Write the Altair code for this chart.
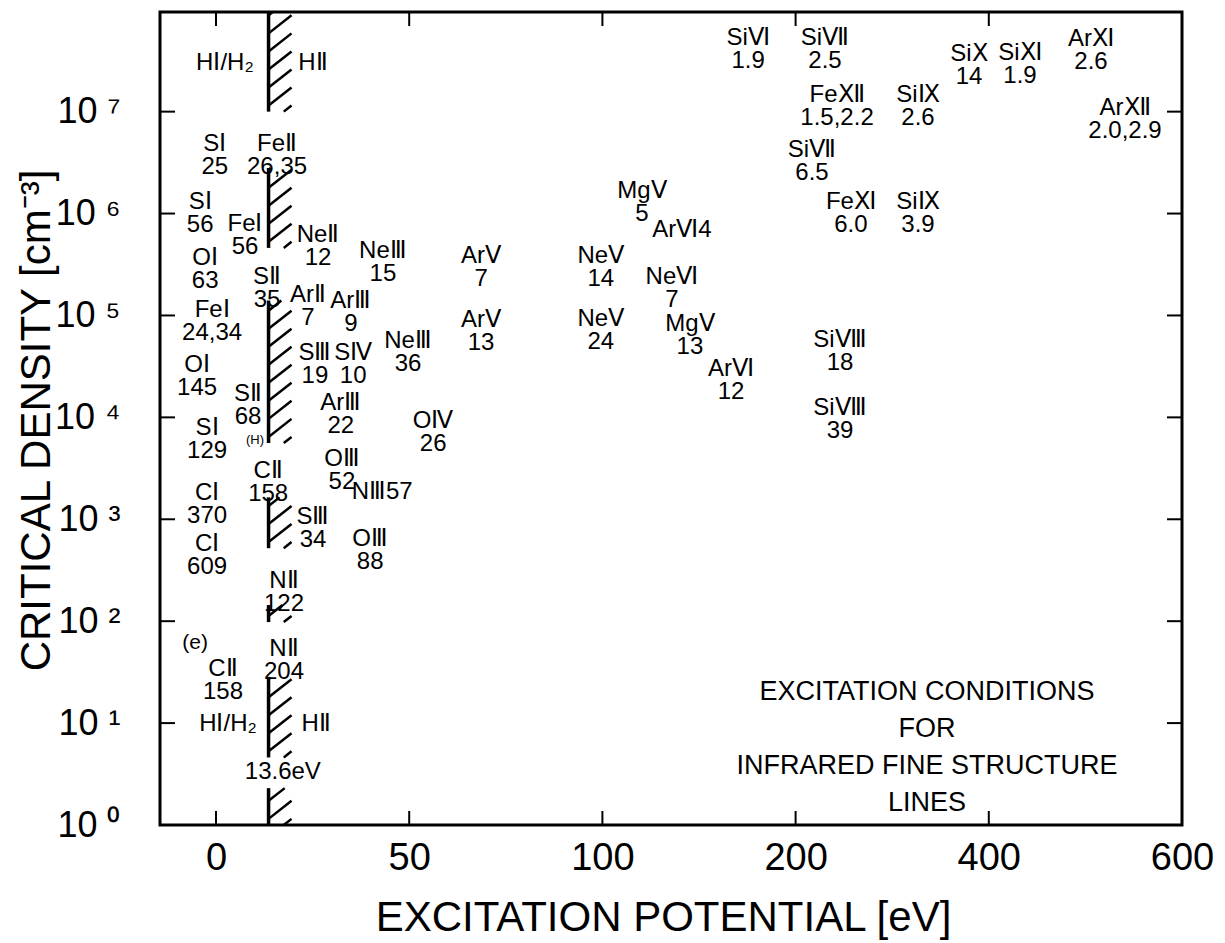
import altair as alt
import pandas as pd
import numpy as np

# ---------------- data ----------------
label_text = [
    "HⅠ/H₂", "HⅡ", "SⅠ\n25", "FeⅡ\n26,35", "SⅠ\n56", "FeⅠ\n56", "NeⅡ\n12", "NeⅢ\n15",
    "OⅠ\n63", "SⅡ\n35", "ArⅡ\n7", "ArⅢ\n9", "FeⅠ\n24,34", "SⅢ\n19", "SⅣ\n10", "NeⅢ\n36",
    "OⅠ\n145", "SⅡ\n68", "ArⅢ\n22", "SⅠ\n129", "CⅡ\n158", "OⅢ\n52", "OⅣ\n26", "NⅢ57",
    "CⅠ\n370", "SⅢ\n34", "CⅠ\n609", "OⅢ\n88", "NⅡ\n122", "NⅡ\n204", "CⅡ\n158",
    "HⅠ/H₂", "HⅡ", "13.6eV",
    "ArⅤ\n7", "ArⅤ\n13", "NeⅤ\n14", "NeⅤ\n24", "MgⅤ\n5", "ArⅥ4", "NeⅥ\n7", "MgⅤ\n13",
    "ArⅥ\n12", "SiⅧ\n18", "SiⅧ\n39",
    "SiⅥ\n1.9", "SiⅦ\n2.5", "FeⅫ\n1.5,2.2", "SiⅨ\n2.6", "SiⅩ\n14", "SiⅦ\n6.5",
    "FeⅪ\n6.0", "SiⅨ\n3.9", "SiⅪ\n1.9", "ArⅪ\n2.6", "ArⅫ\n2.0,2.9",
]
label_ev = [
    2.3, 25.1, -0.3, 15.8, -4.1, 7.5, 26.4, 43.2,
    -2.8, 13.2, 23.8, 34.9, -1.0, 25.6, 35.5, 49.7,
    -4.9, 8.3, 32.3, -2.3, 13.5, 32.6, 56.2, 43.0,
    -2.3, 25.1, -2.3, 39.9, 17.6, 17.6, 1.8,
    3.1, 25.9, 17.3,
    68.6, 68.6, 99.6, 99.6, 120.5, 141.2, 136.0, 145.3,
    166.6, 246.0, 246.0,
    175.4, 230.4, 242.9, 326.7, 379.5, 217.0,
    257.3, 326.7, 432.3, 505.8, 541.0,
]
label_density = [
    3.0e7, 3.0e7, 4.8e6, 4.8e6, 1.3e6, 7.9e5, 6.2e5, 4.3e5,
    3.7e5, 2.4e5, 1.6e5, 1.4e5, 1.13e5, 4.3e4, 4.3e4, 5.6e4,
    3.3e4, 1.7e4, 1.38e4, 7.8e3, 3.0e3, 3.9e3, 9.2e3, 1.84e3,
    1.8e3, 1.05e3, 5.7e2, 6.4e2, 2.5e2, 53, 34,
    9.7, 9.7, 3.3,
    3.8e5, 9.0e4, 3.8e5, 9.2e4, 1.66e6, 6.9e5, 2.4e5, 8.2e4,
    3.0e4, 5.7e4, 1.23e4,
    5.3e7, 5.3e7, 1.46e7, 1.46e7, 3.7e7, 4.2e6,
    1.3e6, 1.3e6, 3.77e7, 5.2e7, 1.09e7,
]

small_text = ["(H)", "(e)"]
small_ev = [10.1, -5.4]
small_density = [6.0e3, 61]

note_text = ["EXCITATION CONDITIONS\nFOR\nINFRARED FINE STRUCTURE\nLINES"]
note_ev = [336.0]
note_density = [20.0]

# ionisation limit of hydrogen and the hatched segments of it
h_limit_ev = 13.6
band_lo = [1.0e7, 4.6e5, 5.6e3, 5.2e2, 98.0, 4.6, 1.0]
band_hi = [9.5e7, 2.8e6, 1.4e5, 1.64e3, 144.0, 28.0, 2.3]

x_ticks = [0, 50, 100, 200, 400, 600]
y_ticks = [1, 10, 100, 1e3, 1e4, 1e5, 1e6, 1e7]

# ---------------- scales ----------------
W, H = 1022, 813
x_scale = alt.Scale(domain=[-14.5, 0, 50, 100, 200, 400, 600],
                    range=[0, 56, 249.2, 442.4, 635.6, 828.8, 1022],
                    nice=False, zero=False)
y_scale = alt.Scale(type="log", domain=[1, 9.5e7], nice=False)

FONT = "Liberation Sans"

# hatch pattern (decoration) for the 13.6 eV limit
run_ev, rise_dec, step_dec = 5.95, 0.177, 0.177
hx, hy, hx2, hy2 = [], [], [], []
for lo, hi in zip(band_lo, band_hi):
    llo, lhi = np.log10(lo), np.log10(hi)
    b = llo - rise_dec + 0.06
    while b < lhi:
        t0 = max(0.0, (llo - b) / rise_dec)
        t1 = min(1.0, (lhi - b) / rise_dec)
        if t1 > t0 + 0.05:
            hx.append(h_limit_ev + t0 * run_ev)
            hx2.append(h_limit_ev + t1 * run_ev)
            hy.append(10 ** (b + t0 * rise_dec))
            hy2.append(10 ** (b + t1 * rise_dec))
        b += step_dec

hatch_df = pd.DataFrame({"x": hx, "x2": hx2, "y": hy, "y2": hy2})
band_df = pd.DataFrame({"x": [h_limit_ev] * len(band_lo), "lo": band_lo, "hi": band_hi})
labels_df = pd.DataFrame({"x": label_ev, "y": label_density, "t": label_text})
small_df = pd.DataFrame({"x": small_ev, "y": small_density, "t": small_text})
note_df = pd.DataFrame({"x": note_ev, "y": note_density, "t": note_text})
xt_df = pd.DataFrame({"x": x_ticks[:-1]})
yt_df = pd.DataFrame({"y": y_ticks[1:]})

x_axis = alt.Axis(values=x_ticks, domain=False, ticks=False, grid=False,
                  labelFont=FONT, labelFontSize=38,
                  labelColor="black", labelPadding=14, labelFlush=False, labelOverlap=False,
                  title="EXCITATION POTENTIAL [eV]", titleFont=FONT, titleFontSize=42,
                  titleFontWeight="normal", titleColor="black",
                  titleX=503, titleY=92, titleBaseline="middle", titleAlign="center")
y_axis = alt.Axis(values=y_ticks, domain=False, ticks=False, grid=False,
                  labelExpr="'10 ' + ['⁰','¹','²','³','⁴','⁵','⁶','⁷','⁸'][round(log(datum.value)/LN10)]",
                  labelFont=FONT, labelFontSize=36, labelColor="black", labelPadding=40,
                  labelOverlap=False, labelFlush=False,
                  title="CRITICAL DENSITY [cm⁻³]", titleFont=FONT, titleFontSize=42,
                  titleFontWeight="normal", titleColor="black",
                  titleX=-124, titleY=408, titleAngle=270, titleBaseline="middle", titleAlign="center")

labels = alt.Chart(labels_df).mark_text(font=FONT, fontSize=24, lineBreak="\n", lineHeight=23,
                                        align="center", baseline="middle", color="black").encode(
    x=alt.X("x:Q", scale=x_scale, axis=x_axis),
    y=alt.Y("y:Q", scale=y_scale, axis=y_axis),
    text="t:N",
)
small = alt.Chart(small_df).mark_text(font=FONT, align="center", baseline="middle",
                                      color="black").encode(
    x=alt.X("x:Q", scale=x_scale), y=alt.Y("y:Q", scale=y_scale), text="t:N",
    size=alt.Size("t:N", scale=alt.Scale(domain=small_text, range=[13, 21]), legend=None))
note = alt.Chart(note_df).mark_text(font=FONT, fontSize=27, lineBreak="\n", lineHeight=37,
                                    align="center", baseline="middle", color="black").encode(
    x=alt.X("x:Q", scale=x_scale), y=alt.Y("y:Q", scale=y_scale), text="t:N")

bands = alt.Chart(band_df).mark_rule(color="black", strokeWidth=3.5).encode(
    x=alt.X("x:Q", scale=x_scale), y=alt.Y("lo:Q", scale=y_scale), y2="hi:Q")
hatch = alt.Chart(hatch_df).mark_rule(color="black", strokeWidth=2.5).encode(
    x=alt.X("x:Q", scale=x_scale), x2="x2:Q", y=alt.Y("y:Q", scale=y_scale), y2="y2:Q")

tick_b = alt.Chart(xt_df).mark_rule(color="black", strokeWidth=2).encode(
    x=alt.X("x:Q", scale=x_scale), y=alt.value(H), y2=alt.value(H - 14))
tick_t = alt.Chart(xt_df).mark_rule(color="black", strokeWidth=2).encode(
    x=alt.X("x:Q", scale=x_scale), y=alt.value(0), y2=alt.value(14))
tick_l = alt.Chart(yt_df).mark_rule(color="black", strokeWidth=2).encode(
    y=alt.Y("y:Q", scale=y_scale), x=alt.value(0), x2=alt.value(15))
tick_r = alt.Chart(yt_df).mark_rule(color="black", strokeWidth=2).encode(
    y=alt.Y("y:Q", scale=y_scale), x=alt.value(W - 15), x2=alt.value(W))

chart = alt.layer(labels, small, note, bands, hatch, tick_b, tick_t, tick_l, tick_r).properties(
    width=W, height=H,
    padding={"left": 152, "top": 4, "right": 35, "bottom": 118},
    autosize=alt.AutoSizeParams(type="none"),
    background="white",
).configure_view(stroke="black", strokeWidth=3)

chart.save("out.html", embed_options={"renderer": "svg", "actions": False})
